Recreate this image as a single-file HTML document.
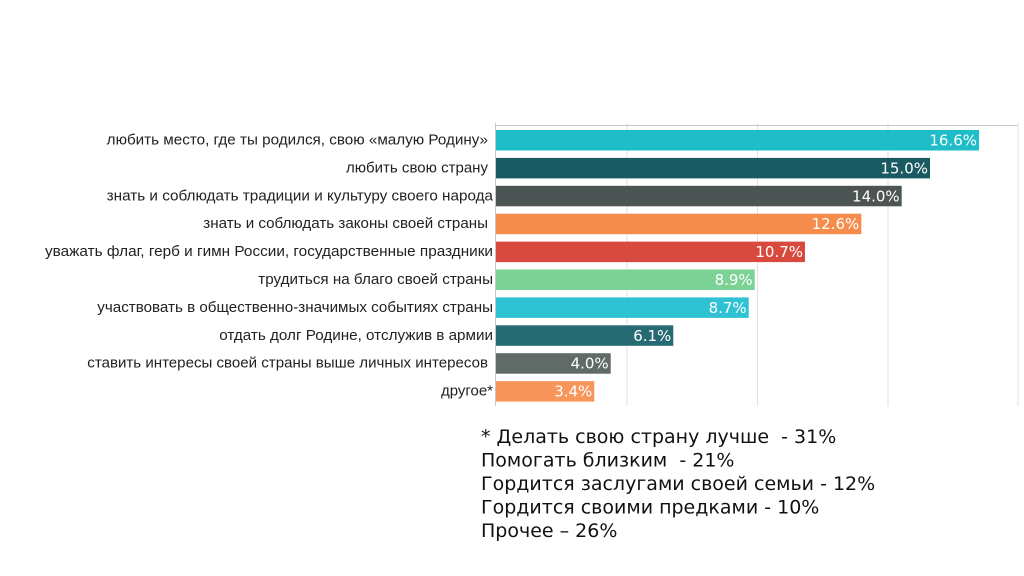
<!DOCTYPE html>
<html>
<head>
<meta charset="utf-8">
<style>
html,body{margin:0;padding:0;background:#fff;}
svg{display:block;}
.lbl{font-family:"Liberation Sans","DejaVu Sans",sans-serif;font-size:14.5px;fill:#222;}
.val{font-family:"DejaVu Sans","Liberation Sans",sans-serif;font-size:15px;fill:#fff;}
.foot{font-family:"DejaVu Sans","Liberation Sans",sans-serif;font-size:19px;fill:#111;white-space:pre;}
</style>
</head>
<body>
<svg width="1024" height="576" viewBox="0 0 1024 576" xmlns="http://www.w3.org/2000/svg">
<rect width="1024" height="576" fill="#fff"/>
<!-- grid -->
<g stroke="#e2e2e2" stroke-width="1">
<line x1="627" y1="123" x2="627" y2="406"/>
<line x1="757.5" y1="123" x2="757.5" y2="406"/>
<line x1="888" y1="123" x2="888" y2="406"/>
<line x1="1018" y1="123" x2="1018" y2="406"/>
</g>
<line x1="496" y1="125.5" x2="1018" y2="125.5" stroke="#c8c8c8" stroke-width="1"/>
<line x1="495.5" y1="123" x2="495.5" y2="406" stroke="#c8c8c8" stroke-width="1"/>

<!-- bars -->
<g>
<rect x="496" y="130" width="483" height="20.5" fill="#1ebdc7"/>
<rect x="496" y="157.9" width="434" height="20.5" fill="#1a5a62"/>
<rect x="496" y="185.8" width="405.7" height="20.5" fill="#4c5553"/>
<rect x="496" y="213.7" width="365.3" height="20.5" fill="#f68c4c"/>
<rect x="496" y="241.6" width="309" height="20.5" fill="#d94a3e"/>
<rect x="496" y="269.5" width="258.7" height="20.5" fill="#7cd194"/>
<rect x="496" y="297.4" width="252.7" height="20.5" fill="#2fc2d2"/>
<rect x="496" y="325.3" width="177.3" height="20.5" fill="#266b73"/>
<rect x="496" y="353.2" width="114.7" height="20.5" fill="#606a67"/>
<rect x="496" y="381.1" width="98.3" height="20.5" fill="#f8955b"/>
</g>

<!-- values -->
<g class="val" text-anchor="end">
<text x="977" y="145.5">16.6%</text>
<text x="928" y="173.4">15.0%</text>
<text x="899.7" y="201.3">14.0%</text>
<text x="859.3" y="229.2">12.6%</text>
<text x="803" y="257.1">10.7%</text>
<text x="752.7" y="285">8.9%</text>
<text x="746.7" y="312.9">8.7%</text>
<text x="671.3" y="340.8">6.1%</text>
<text x="608.7" y="368.7">4.0%</text>
<text x="592.3" y="396.6">3.4%</text>
</g>

<!-- category labels -->
<g class="lbl">
<text x="106.7" y="144.5" textLength="381.3" lengthAdjust="spacingAndGlyphs">любить место, где ты родился, свою «малую Родину»</text>
<text x="346" y="172.4" textLength="142" lengthAdjust="spacingAndGlyphs">любить свою страну</text>
<text x="106.7" y="200.3" textLength="386.3" lengthAdjust="spacingAndGlyphs">знать и соблюдать традиции и культуру своего народа</text>
<text x="203.3" y="228.2" textLength="284.7" lengthAdjust="spacingAndGlyphs">знать и соблюдать законы своей страны</text>
<text x="45" y="256.1" textLength="448" lengthAdjust="spacingAndGlyphs">уважать флаг, герб и гимн России, государственные праздники</text>
<text x="258.3" y="284" textLength="234.7" lengthAdjust="spacingAndGlyphs">трудиться на благо своей страны</text>
<text x="97.3" y="311.9" textLength="395.7" lengthAdjust="spacingAndGlyphs">участвовать в общественно-значимых событиях страны</text>
<text x="219.3" y="339.8" textLength="273.7" lengthAdjust="spacingAndGlyphs">отдать долг Родине, отслужив в армии</text>
<text x="87.3" y="367.7" textLength="400.7" lengthAdjust="spacingAndGlyphs">ставить интересы своей страны выше личных интересов</text>
<text x="441" y="395.6" textLength="52" lengthAdjust="spacingAndGlyphs">другое*</text>
</g>

<!-- footnote -->
<g class="foot" xml:space="preserve">
<text x="481" y="443" xml:space="preserve">* Делать свою страну лучше  - 31%</text>
<text x="481" y="466.5" xml:space="preserve">Помогать близким  - 21%</text>
<text x="481" y="490">Гордится заслугами своей семьи - 12%</text>
<text x="481" y="513.5">Гордится своими предками - 10%</text>
<text x="481" y="537">Прочее – 26%</text>
</g>
</svg>
</body>
</html>
